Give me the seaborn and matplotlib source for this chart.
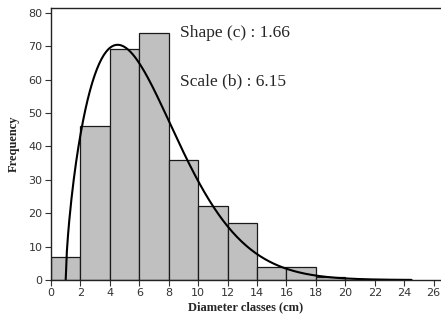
import numpy as np
import pandas as pd
import seaborn as sns
import matplotlib.pyplot as plt

# diameter classes (cm) and observed frequencies
bin_edges = [0, 2, 4, 6, 8, 10, 12, 14, 16, 18, 20, 22]
class_mid = [1, 3, 5, 7, 9, 11, 13, 15, 17, 19, 21]
frequency = [7, 46, 69, 74, 36, 22, 17, 4, 4, 1, 0]

# fitted weibull parameters shown on the chart
shape_c = 1.66
scale_b = 6.15
location_a = 1.0
curve_end = 24.5

sns.set_style("white")

fig = plt.figure(figsize=(4.41, 3.2), dpi=100)
ax = fig.add_axes([0.1156, 0.125, 0.8844, 0.85])

df = pd.DataFrame({"mid": class_mid, "freq": frequency})
sns.histplot(data=df, x="mid", weights="freq", bins=bin_edges, ax=ax,
             color="#c0c0c0", edgecolor="#1a1a1a", linewidth=0.9, alpha=1.0)

# weibull pdf scaled to counts (n * class width)
n_total = sum(frequency)
width = bin_edges[1] - bin_edges[0]
xs = np.linspace(location_a, curve_end, 300)
z = (xs - location_a) / scale_b
pdf = (shape_c / scale_b) * z ** (shape_c - 1) * np.exp(-z ** shape_c)
curve = pd.DataFrame({"x": xs, "y": pdf * n_total * width})
sns.lineplot(data=curve, x="x", y="y", ax=ax, color="black", linewidth=1.5)

ax.text(8.75, 74, "Shape (c) : 1.66", family="Liberation Serif", fontsize=12.5,
        va="center", ha="left")
ax.text(8.75, 59.3, "Scale (b) : 6.15", family="Liberation Serif", fontsize=12.5,
        va="center", ha="left")

ax.set_xlim(0, 26.5)
ax.set_ylim(0, 81.4)
ax.set_xticks(range(0, 27, 2))
ax.set_yticks(range(0, 81, 10))
ax.tick_params(axis="both", direction="out", length=4, width=0.8,
               labelsize=8, labelcolor="#333333", color="#333333",
               bottom=True, left=True, pad=2)

ax.set_xlabel("Diameter classes (cm)", family="Liberation Serif",
              fontweight="bold", fontsize=9, labelpad=2)
ax.set_ylabel("Frequency", family="Liberation Serif", fontweight="bold",
              fontsize=9, labelpad=6)

for side in ["left", "bottom", "top"]:
    ax.spines[side].set_color("#222222")
    ax.spines[side].set_linewidth(1.0)
ax.spines["right"].set_visible(False)

plt.savefig("out.png", dpi=100)
